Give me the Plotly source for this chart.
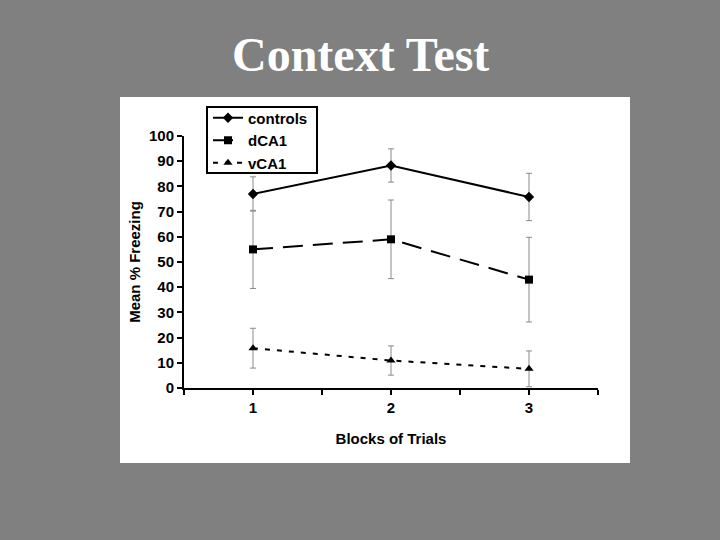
import plotly.graph_objects as go

blocks = [1, 2, 3]
controls = [77, 88.3, 75.8]
controls_err = [6.8, 6.6, 9.4]
dca1 = [55, 59, 43]
dca1_err = [15.5, 15.6, 16.8]
vca1 = [15.8, 10.9, 7.6]
vca1_err = [7.9, 5.8, 7.1]

x_tickvals = [0.5, 1, 1.5, 2, 2.5, 3, 3.5]
x_ticktext = ["", "1", "", "2", "", "3", ""]
y_tickvals = list(range(0, 101, 10))

W, H = 720, 540
L, R, T, B = 184, 598, 136, 388
pw, ph = R - L, B - T

def px(x):
    return (x - L) / pw

def py(y):
    return (B - y) / ph

err_style = dict(type="data", thickness=1, width=3, color="#8a8a8a")
font = dict(family="Liberation Sans, Arial", size=15, color="black", weight="bold")

fig = go.Figure()
fig.add_trace(go.Scatter(
    x=blocks, y=controls, name="controls", mode="lines+markers",
    line=dict(color="black", width=2),
    marker=dict(symbol="diamond", size=8, color="black"),
    error_y=dict(array=controls_err, **err_style),
))
fig.add_trace(go.Scatter(
    x=blocks, y=dca1, name="dCA1", mode="lines+markers",
    line=dict(color="black", width=2, dash="20px,10px"),
    marker=dict(symbol="square", size=8, color="black"),
    error_y=dict(array=dca1_err, **err_style),
))
fig.add_trace(go.Scatter(
    x=blocks, y=vca1, name="vCA1", mode="lines+markers",
    line=dict(color="black", width=2, dash="5px,7px"),
    marker=dict(symbol="triangle-up", size=8, color="black"),
    error_y=dict(array=vca1_err, **err_style),
))

# white chart panel
fig.add_shape(type="rect", xref="paper", yref="paper",
              x0=px(120), x1=px(630), y0=py(463), y1=py(97),
              fillcolor="white", line=dict(width=0), layer="below")
# legend frame
fig.add_shape(type="rect", xref="paper", yref="paper",
              x0=px(207), x1=px(317), y0=py(173), y1=py(107),
              fillcolor="white", line=dict(width=2, color="black"), layer="above")

fig.add_annotation(text="Context Test", xref="paper", yref="paper",
                   x=px(360), y=py(54), xanchor="center", yanchor="middle",
                   showarrow=False,
                   font=dict(family="Liberation Serif, Times New Roman", size=48,
                             color="white", weight="bold"))

fig.update_layout(
    width=W, height=H,
    margin=dict(l=L, r=W - R, t=T, b=H - B, pad=0),
    paper_bgcolor="#808080",
    plot_bgcolor="white",
    showlegend=True,
    legend=dict(x=px(208), y=py(101.5), xanchor="left", yanchor="top",
                bgcolor="rgba(0,0,0,0)", borderwidth=0,
                font=font, tracegroupgap=0, itemwidth=30),
    font=font,
    xaxis=dict(range=[0.5, 3.5], tickmode="array", tickvals=x_tickvals,
               ticktext=x_ticktext, ticks="outside", ticklen=5, tickwidth=2,
               tickcolor="black", showline=True, linecolor="black", linewidth=2,
               showgrid=False, zeroline=False, tickfont=font,
               title=dict(text="Blocks of Trials", font=font, standoff=18)),
    yaxis=dict(range=[0, 100], tickmode="array", tickvals=y_tickvals,
               ticktext=[str(v) for v in y_tickvals],
               ticks="outside", ticklen=5, tickwidth=2, tickcolor="black",
               showline=True, linecolor="black", linewidth=2,
               showgrid=False, zeroline=False, tickfont=font,
               title=dict(text="Mean % Freezing", font=font, standoff=5)),
)

fig.write_html("out.html")
